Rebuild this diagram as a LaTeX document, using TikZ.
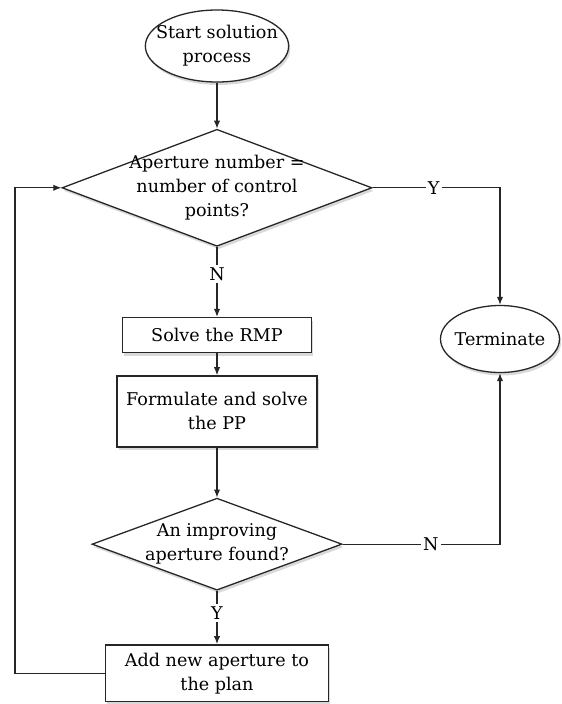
\documentclass[tikz,border=0pt]{standalone}
\usepackage{fontspec}
\setmainfont{DejaVu Serif}
\usetikzlibrary{positioning, arrows.meta, shapes.geometric, shadows, calc}
\tikzset{
  softshadow/.style={
    drop shadow={opacity=0.3, shadow xshift=0.05cm, shadow yshift=-0.09cm}
  },
  termnode/.style={
    ellipse, draw=black!85, line width=1.1pt,
    fill=white, softshadow,
    align=center, inner sep=0pt
  },
  stepbox/.style={
    rectangle, draw=black!85, line width=1.1pt,
    fill=white, softshadow,
    align=center, inner sep=2pt
  },
  decision/.style={
    diamond, draw=black!85, line width=1.1pt,
    fill=white, softshadow, inner sep=0pt
  },
  flow/.style={
    -{Latex[length=2.4mm,width=1.9mm]},
    line width=1pt,
    draw=black!85
  },
  branch/.style={
    fill=white,
    inner sep=2pt
  }
}

\begin{document}
\begin{tikzpicture}[node distance=1cm, font=\fontsize{15}{20.5}\selectfont]
  \useasboundingbox (0,0) rectangle (16.86,-21.12);

  \node[termnode, inner xsep=-0.32cm, minimum width=4.3cm, minimum height=2.16cm] (start) at (6.51,-1.38) {Start solution\\process};
  \node[decision, minimum width=9.3cm, minimum height=3.51cm, below=1.38cm of start] (apcheck) {};
  \node[align=center] (apchecktxt) at (apcheck) {Aperture number =\\number of control\\points?};
  \node[stepbox, minimum width=5.67cm, minimum height=1.05cm, below=2.1cm of apcheck] (rmp) {Solve the RMP};
  \node[stepbox, minimum width=6cm, minimum height=2.13cm, below=0.66cm of rmp] (pp) {Formulate and solve\\the PP};
  \node[decision, minimum width=7.5cm, minimum height=2.76cm, below=1.5cm of pp] (improve) {};
  \node[align=center] (improvetxt) at (improve) {An improving\\aperture found?};
  \node[stepbox, line width=1.4pt, minimum width=6.69cm, minimum height=1.7cm, below=1.6cm of improve] (addap) {Add new aperture to\\the plan};
  \node[termnode, inner xsep=-0.1cm, minimum width=3.57cm, minimum height=2.01cm] (term) at (15.0,-10.17) {Terminate};

  \coordinate (loopleft) at (0.45,0 |- apcheck.west);

  \draw[flow] (start) -- (apcheck);
  \draw[flow] (apcheck) -- node[branch, pos=0.39]{N} (rmp);
  \draw[flow] (rmp) -- (pp);
  \draw[flow] (pp) -- (improve);
  \draw[flow] (improve) -- node[branch, pos=0.42]{Y} (addap);
  \draw[flow] (apcheck.east) -| node[branch, pos=0.24]{Y} (term.north);
  \draw[flow] (improve.east) -| node[branch, pos=0.28]{N} (term.south);
  \draw[flow] (addap.west) -| (loopleft) -- (apcheck.west);
\end{tikzpicture}
\end{document}
